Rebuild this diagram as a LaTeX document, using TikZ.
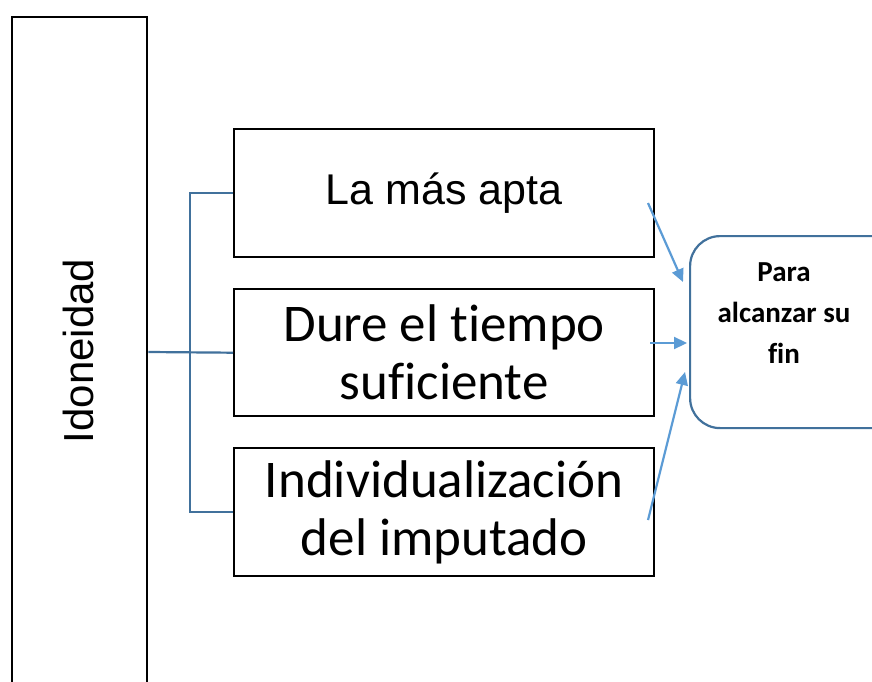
\documentclass[tikz,border=0pt]{standalone}
\usepackage{fontspec}
\setmainfont{Liberation Sans}
\newfontfamily\calfont[Ligatures={NoCommon,NoDiscretionary,NoContextual}]{Carlito}
\usetikzlibrary{arrows.meta}
\definecolor{darkblue}{HTML}{41719C}
\definecolor{lightblue}{HTML}{5B9BD5}
\begin{document}
\begin{tikzpicture}[x=1pt,y=-1pt,
  box/.style={draw=black, line width=2.4pt, minimum width=420pt, anchor=north west, inner sep=0pt, align=center},
  bracket/.style={draw=darkblue, line width=2.2pt},
  arr/.style={draw=lightblue, line width=2.2pt, -{Triangle[length=13pt,width=12pt]}},
  finbox/.style={draw=darkblue, line width=2.2pt, rounded corners=30pt, anchor=north west, minimum width=220pt, minimum height=192pt, inner sep=0pt}]
\useasboundingbox (0,0) rectangle (872,682);
\clip (0,0) rectangle (872,682);
\fill[white] (0,0) rectangle (872,682);
% big box
\node (ido) [draw=black, line width=2.4pt, minimum width=135pt, minimum height=720pt, anchor=north west, inner sep=0pt] at (11,16) {};
\node (idotext) [rotate=90, font=\fontsize{42}{46}\selectfont, inner sep=0pt] at (78,351) {Idoneidad};
% three boxes
\node (b1) [box, minimum height=128pt, font=\fontsize{43}{46}\selectfont] at (233,128) {La más apta};
\node (b2) [box, minimum height=127pt, font=\calfont\fontsize{53}{58}\selectfont] at (233,288) {Dure el tiempo\\suficiente};
\node (b3) [box, minimum height=128pt, font=\calfont\fontsize{53}{58}\selectfont] at (233,447) {Individualización\\del imputado};
% final box
\node (fin) [finbox] at (689,235) {};
\node (fintext) [align=center, font=\calfont\bfseries\fontsize{29}{41}\selectfont, inner sep=0pt] at (784,313) {Para\\alcanzar su\\fin};
% bracket
\coordinate (bx) at (190,352);
\draw[bracket] (b1.west) -| (bx) |- (b3.west);
\draw[bracket] (ido.east |- bx) -- (b2.west);
% arrows
\coordinate (a1s) at (648,203);
\coordinate (a1e) at (683,282);
\coordinate (a2s) at (650,343);
\coordinate (a2e) at (687,343);
\coordinate (a3s) at (648,520);
\coordinate (a3e) at (685,372);
\draw[arr] (a1s) -- (a1e);
\draw[arr] (a2s) -- (a2e);
\draw[arr] (a3s) -- (a3e);
\end{tikzpicture}
\end{document}
